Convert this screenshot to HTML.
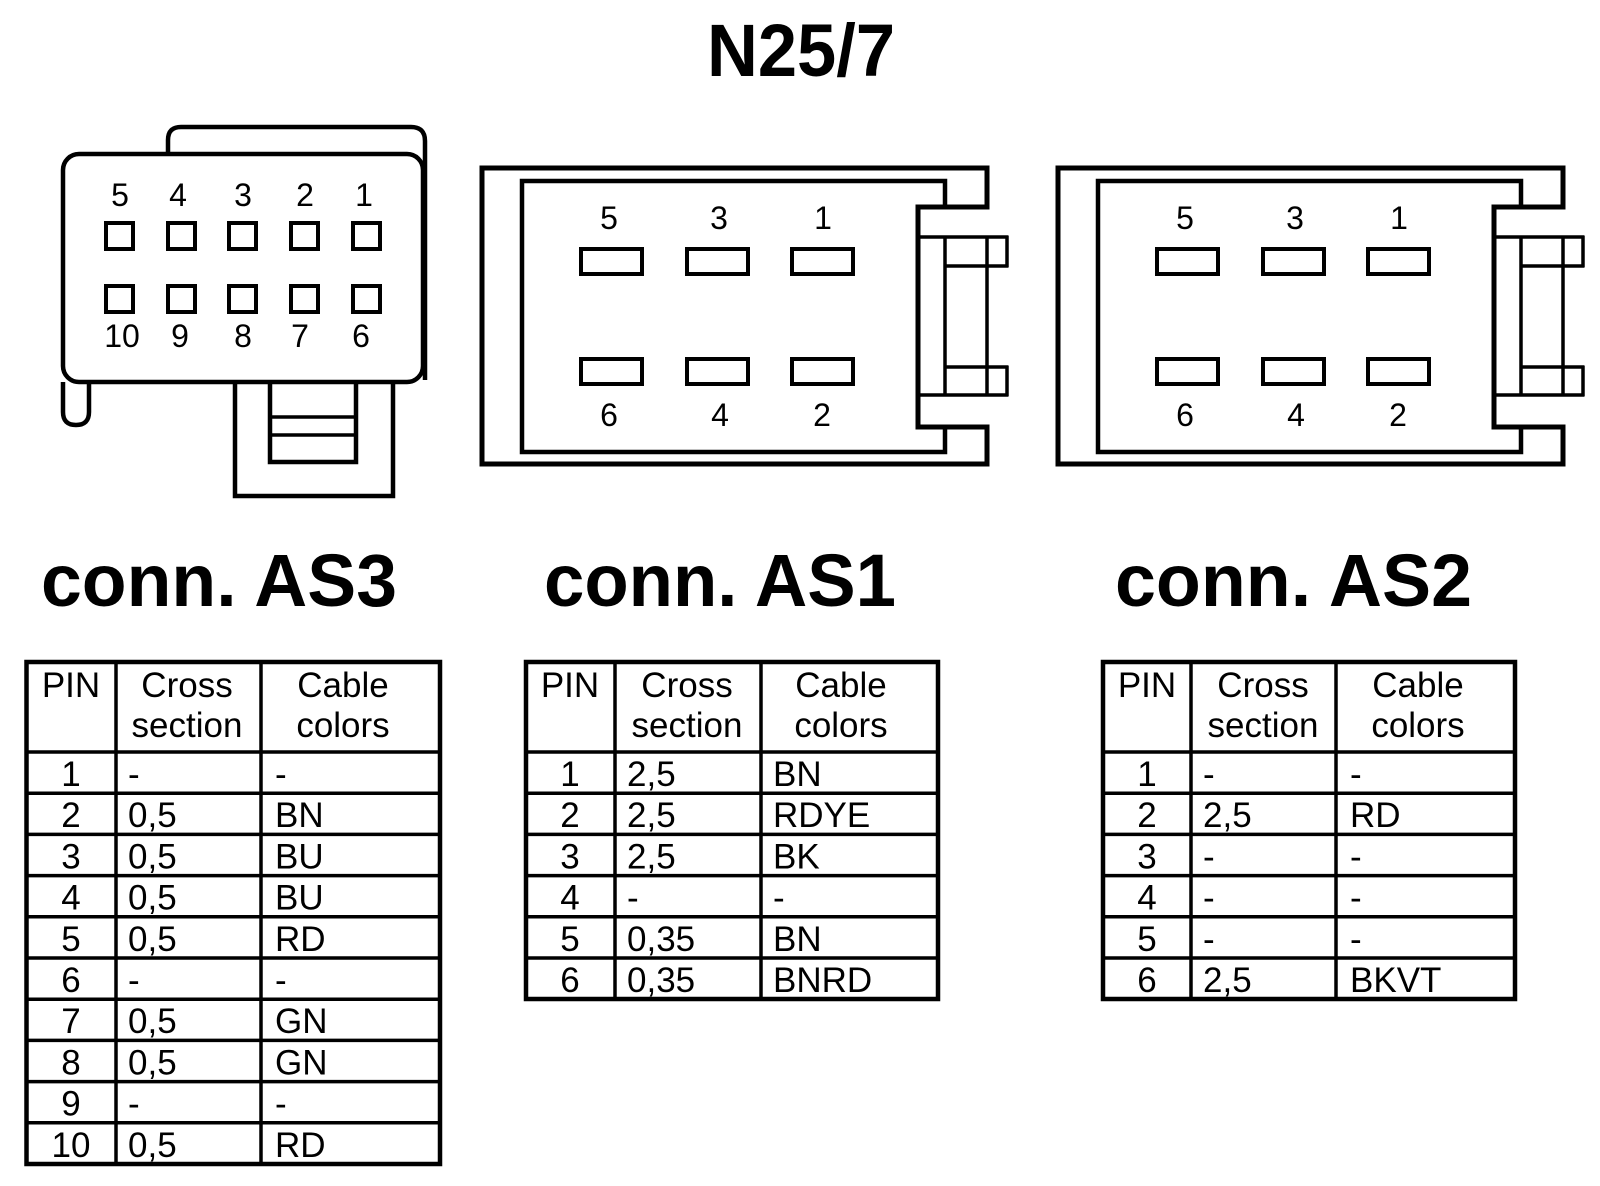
<!DOCTYPE html>
<html><head><meta charset="utf-8"><style>
html,body{margin:0;padding:0;background:#fff;}
svg{display:block;}
text{font-family:"Liberation Sans",Arial,sans-serif;fill:#000;}
.b{font-weight:bold;}
.t{font-size:35px;}
.p{font-size:32px;}
</style></head><body>
<svg width="1600" height="1186" viewBox="0 0 1600 1186" xmlns="http://www.w3.org/2000/svg">
<rect width="1600" height="1186" fill="#fff"/>
<text x="801" y="76" class="b" font-size="74" text-anchor="middle" textLength="188" lengthAdjust="spacingAndGlyphs">N25/7</text>

<!-- AS3 connector -->
<g fill="none" stroke="#000" stroke-width="4.5">
<path d="M168,154 L168,140 Q168,127 181,127 L411,127 Q425,127 425,141 L425,380"/>
<path d="M63,382 L63,412 Q63,425 76,425 Q89,425 89,412 L89,382"/>
<rect x="63" y="154" width="360" height="228" rx="16" fill="#fff"/>
<path d="M235,382 L235,496 L393,496 L393,382"/>
<path d="M270,382 L270,462 L356,462 L356,382"/>
<line x1="270" y1="417" x2="356" y2="417" stroke-width="3.5"/>
<line x1="270" y1="435" x2="356" y2="435" stroke-width="3.5"/>
<g stroke-width="4">
<rect x="106" y="223" width="27" height="26"/><rect x="168" y="223" width="27" height="26"/><rect x="229" y="223" width="27" height="26"/><rect x="291" y="223" width="27" height="26"/><rect x="353" y="223" width="27" height="26"/>
<rect x="106" y="286" width="27" height="26"/><rect x="168" y="286" width="27" height="26"/><rect x="229" y="286" width="27" height="26"/><rect x="291" y="286" width="27" height="26"/><rect x="353" y="286" width="27" height="26"/>
</g>
</g>
<g class="p" text-anchor="middle">
<text x="120" y="206">5</text><text x="178" y="206">4</text><text x="243" y="206">3</text><text x="305" y="206">2</text><text x="364" y="206">1</text>
<text x="122" y="347">10</text><text x="180" y="347">9</text><text x="243" y="347">8</text><text x="300" y="347">7</text><text x="361" y="347">6</text>
</g>

<!-- AS1 / AS2 connectors -->
<g id="c6">
<g fill="none" stroke="#000">
<path d="M918,207 L987,207 L987,168 L482,168 L482,464 L987,464 L987,427 L918,427 Z" stroke-width="5"/>
<path d="M945,206 L945,181 L522,181 L522,452 L945,452 L945,428" stroke-width="4.5"/>
<g stroke-width="3.5">
<line x1="918" y1="237" x2="1008" y2="237"/><line x1="918" y1="395" x2="1008" y2="395"/>
<line x1="945" y1="237" x2="945" y2="395"/><line x1="987" y1="237" x2="987" y2="395"/>
<line x1="945" y1="266" x2="1008" y2="266"/><line x1="945" y1="367" x2="1008" y2="367"/>
<line x1="1007" y1="235.5" x2="1007" y2="267.5"/><line x1="1007" y1="365.5" x2="1007" y2="396.5"/>
</g>
<g stroke-width="4">
<rect x="581" y="249" width="61" height="25"/><rect x="687" y="249" width="61" height="25"/><rect x="792" y="249" width="61" height="25"/>
<rect x="581" y="359" width="61" height="25"/><rect x="687" y="359" width="61" height="25"/><rect x="792" y="359" width="61" height="25"/>
</g>
</g>
<g class="p" text-anchor="middle">
<text x="609" y="229">5</text><text x="719" y="229">3</text><text x="823" y="229">1</text>
<text x="609" y="426">6</text><text x="720" y="426">4</text><text x="822" y="426">2</text>
</g>
</g>
<use href="#c6" x="576" y="0"/>

<text x="41" y="606" class="b" font-size="74" textLength="356" lengthAdjust="spacingAndGlyphs">conn. AS3</text>
<text x="544" y="606" class="b" font-size="74" textLength="352" lengthAdjust="spacingAndGlyphs">conn. AS1</text>
<text x="1115" y="606" class="b" font-size="74" textLength="357" lengthAdjust="spacingAndGlyphs">conn. AS2</text>

<!-- Tables -->
<g fill="none" stroke="#000">
<rect x="26.5" y="662" width="413.5" height="502" stroke-width="4.5"/>
<line x1="116" y1="662" x2="116" y2="1164" stroke-width="3.5"/>
<line x1="261" y1="662" x2="261" y2="1164" stroke-width="3.5"/>
<g stroke-width="3.5">
<line x1="26" y1="752" x2="440" y2="752"/><line x1="26" y1="793.2" x2="440" y2="793.2"/><line x1="26" y1="834.4" x2="440" y2="834.4"/><line x1="26" y1="875.6" x2="440" y2="875.6"/><line x1="26" y1="916.8" x2="440" y2="916.8"/><line x1="26" y1="958" x2="440" y2="958"/><line x1="26" y1="999.2" x2="440" y2="999.2"/><line x1="26" y1="1040.4" x2="440" y2="1040.4"/><line x1="26" y1="1081.6" x2="440" y2="1081.6"/><line x1="26" y1="1122.8" x2="440" y2="1122.8"/>
</g>
<rect x="526" y="662" width="412" height="337" stroke-width="4.5"/>
<line x1="615" y1="662" x2="615" y2="999" stroke-width="3.5"/>
<line x1="761" y1="662" x2="761" y2="999" stroke-width="3.5"/>
<g stroke-width="3.5">
<line x1="526" y1="752" x2="938" y2="752"/><line x1="526" y1="793.2" x2="938" y2="793.2"/><line x1="526" y1="834.4" x2="938" y2="834.4"/><line x1="526" y1="875.6" x2="938" y2="875.6"/><line x1="526" y1="916.8" x2="938" y2="916.8"/><line x1="526" y1="958" x2="938" y2="958"/>
</g>
<rect x="1103" y="662" width="412" height="337" stroke-width="4.5"/>
<line x1="1191" y1="662" x2="1191" y2="999" stroke-width="3.5"/>
<line x1="1336" y1="662" x2="1336" y2="999" stroke-width="3.5"/>
<g stroke-width="3.5">
<line x1="1103" y1="752" x2="1515" y2="752"/><line x1="1103" y1="793.2" x2="1515" y2="793.2"/><line x1="1103" y1="834.4" x2="1515" y2="834.4"/><line x1="1103" y1="875.6" x2="1515" y2="875.6"/><line x1="1103" y1="916.8" x2="1515" y2="916.8"/><line x1="1103" y1="958" x2="1515" y2="958"/>
</g>
</g>

<g class="t">
<g text-anchor="middle">
<text x="71" y="697">PIN</text><text x="187" y="697">Cross</text><text x="187" y="737">section</text><text x="343" y="697">Cable</text><text x="343" y="737">colors</text>
<text x="570" y="697">PIN</text><text x="687" y="697">Cross</text><text x="687" y="737">section</text><text x="841" y="697">Cable</text><text x="841" y="737">colors</text>
<text x="1147" y="697">PIN</text><text x="1263" y="697">Cross</text><text x="1263" y="737">section</text><text x="1418" y="697">Cable</text><text x="1418" y="737">colors</text>
</g>
<g text-anchor="middle">
<text x="71" y="786">1</text><text x="71" y="827.2">2</text><text x="71" y="868.4">3</text><text x="71" y="909.6">4</text><text x="71" y="950.8">5</text><text x="71" y="992">6</text><text x="71" y="1033.2">7</text><text x="71" y="1074.4">8</text><text x="71" y="1115.6">9</text><text x="71" y="1156.8">10</text>
</g>
<text x="128" y="786">-</text><text x="275" y="786">-</text>
<text x="128" y="827.2">0,5</text><text x="275" y="827.2">BN</text>
<text x="128" y="868.4">0,5</text><text x="275" y="868.4">BU</text>
<text x="128" y="909.6">0,5</text><text x="275" y="909.6">BU</text>
<text x="128" y="950.8">0,5</text><text x="275" y="950.8">RD</text>
<text x="128" y="992">-</text><text x="275" y="992">-</text>
<text x="128" y="1033.2">0,5</text><text x="275" y="1033.2">GN</text>
<text x="128" y="1074.4">0,5</text><text x="275" y="1074.4">GN</text>
<text x="128" y="1115.6">-</text><text x="275" y="1115.6">-</text>
<text x="128" y="1156.8">0,5</text><text x="275" y="1156.8">RD</text>
<g text-anchor="middle">
<text x="570" y="786">1</text><text x="570" y="827.2">2</text><text x="570" y="868.4">3</text><text x="570" y="909.6">4</text><text x="570" y="950.8">5</text><text x="570" y="992">6</text>
</g>
<text x="627" y="786">2,5</text><text x="773" y="786">BN</text>
<text x="627" y="827.2">2,5</text><text x="773" y="827.2">RDYE</text>
<text x="627" y="868.4">2,5</text><text x="773" y="868.4">BK</text>
<text x="627" y="909.6">-</text><text x="773" y="909.6">-</text>
<text x="627" y="950.8">0,35</text><text x="773" y="950.8">BN</text>
<text x="627" y="992">0,35</text><text x="773" y="992">BNRD</text>
<g text-anchor="middle">
<text x="1147" y="786">1</text><text x="1147" y="827.2">2</text><text x="1147" y="868.4">3</text><text x="1147" y="909.6">4</text><text x="1147" y="950.8">5</text><text x="1147" y="992">6</text>
</g>
<text x="1203" y="786">-</text><text x="1350" y="786">-</text>
<text x="1203" y="827.2">2,5</text><text x="1350" y="827.2">RD</text>
<text x="1203" y="868.4">-</text><text x="1350" y="868.4">-</text>
<text x="1203" y="909.6">-</text><text x="1350" y="909.6">-</text>
<text x="1203" y="950.8">-</text><text x="1350" y="950.8">-</text>
<text x="1203" y="992">2,5</text><text x="1350" y="992">BKVT</text>
</g>
</svg>
</body></html>
